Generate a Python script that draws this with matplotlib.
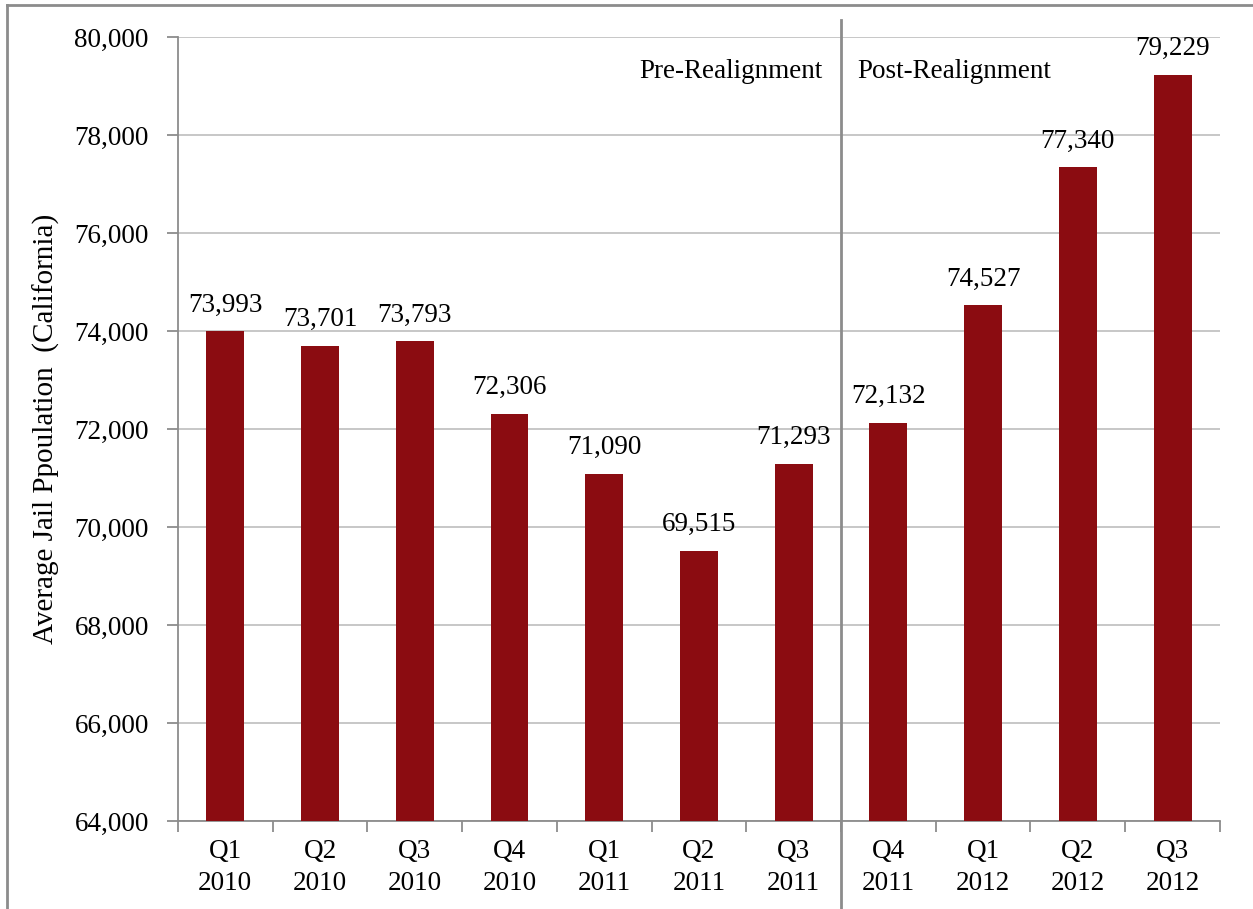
import matplotlib.pyplot as plt
from matplotlib.lines import Line2D
from matplotlib.ticker import FuncFormatter, FixedLocator

quarters = ['Q1\n2010', 'Q2\n2010', 'Q3\n2010', 'Q4\n2010', 'Q1\n2011', 'Q2\n2011',
            'Q3\n2011', 'Q4\n2011', 'Q1\n2012', 'Q2\n2012', 'Q3\n2012']
jail_pop = [73993, 73701, 73793, 72306, 71090, 69515, 71293, 72132, 74527, 77340, 79229]
split_after = 6  # last pre-realignment quarter index

plt.rcParams['font.family'] = ['Liberation Serif', 'DejaVu Serif']
fs = 19.5

fig = plt.figure(figsize=(12.53, 9.09), dpi=100)
ax = fig.add_axes([0.142, 0.0968, 0.8316, 0.8625])

x = list(range(len(quarters)))
ax.bar(x, jail_pop, width=0.4, color='#8B0C11', zorder=3)

for xi, v in zip(x, jail_pop):
    ax.text(xi, v + 280, f'{v:,}', ha='center', va='bottom', fontsize=fs)

ax.set_xlim(-0.5, len(quarters) - 0.5)
ax.set_ylim(64000, 80000)
ax.set_yticks(range(64000, 80001, 2000))
ax.yaxis.set_major_formatter(FuncFormatter(lambda v, p: f'{int(v):,}'))
ax.grid(axis='y', color='#BEBEBE', linewidth=1.2, zorder=0)

ax.set_xticks(x)
ax.set_xticklabels(quarters, fontsize=fs, linespacing=1.35)
ax.xaxis.set_minor_locator(FixedLocator([i - 0.5 for i in range(len(quarters) + 1)]))
ax.tick_params(axis='x', which='major', length=0, pad=13)
ax.tick_params(axis='x', which='minor', length=8, color='#8C8C8C', width=1.3)
ax.tick_params(axis='y', labelsize=fs, length=8, color='#8C8C8C', width=1.3, pad=13)

for s in ['top', 'right']:
    ax.spines[s].set_visible(False)
for s in ['left', 'bottom']:
    ax.spines[s].set_color('#8C8C8C')
    ax.spines[s].set_linewidth(1.3)

ax.set_ylabel('Average Jail Ppoulation  (California)', fontsize=21, labelpad=10)

# realignment divider
sep = split_after + 0.5
ax.add_line(Line2D([sep, sep], [80350, 61600], color='#8C8C8C', linewidth=2,
                   clip_on=False, zorder=4))
ax.text(sep - 0.2, 79300, 'Pre-Realignment', ha='right', va='center', fontsize=fs)
ax.text(sep + 0.17, 79300, 'Post-Realignment', ha='left', va='center', fontsize=fs)

# outer frame of the original figure box
fig.add_artist(Line2D([0.0056, 1.0], [0.9945, 0.9945], color='#8C8C8C', linewidth=2,
                      transform=fig.transFigure))
fig.add_artist(Line2D([0.0056, 0.0056], [0.0, 0.9945], color='#8C8C8C', linewidth=2,
                      transform=fig.transFigure))

plt.savefig('out.png', dpi=100)
